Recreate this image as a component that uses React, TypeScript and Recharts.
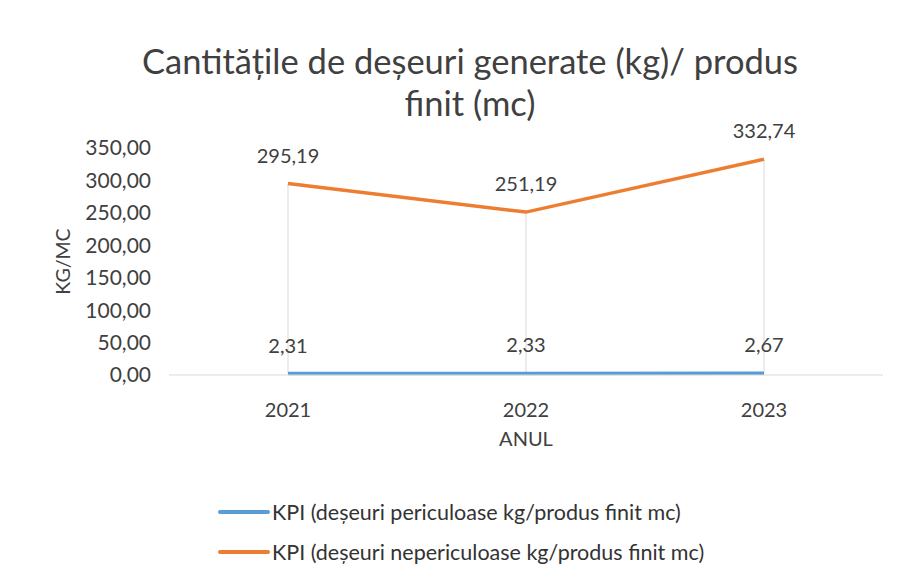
import React from 'react';
import { LineChart, Line, XAxis, YAxis, LabelList, ReferenceLine, Legend } from 'recharts';

const years = ['2021', '2022', '2023'];
const hazardous = [2.31, 2.33, 2.67];
const nonHazardous = [295.19, 251.19, 332.74];
const yTicks = [0, 50, 100, 150, 200, 250, 300, 350];
const seriesNames = [
  'KPI (deșeuri periculoase kg/produs finit mc)',
  'KPI (deșeuri nepericuloase kg/produs finit mc)',
];
const titleLines = ['Cantitățile de deșeuri generate (kg)/ produs', 'finit (mc)'];

const data = years.map((y, i) => ({ year: y, haz: hazardous[i], nonhaz: nonHazardous[i] }));

const BLUE = '#5B9BD5';
const ORANGE = '#ED7D31';
const FONT = 'Lato, "Open Sans", sans-serif';
const TEXT = '#404040';

const fmt = (v: any) => Number(v).toFixed(2).replace('.', ',');

const LegendContent = () => (
  <div style={{ fontFamily: FONT, fontSize: 21.5, color: '#333' }}>
    {seriesNames.map((n, i) => (
      <div key={n} style={{ display: 'flex', alignItems: 'center', height: 40 }}>
        <div style={{ width: 52, height: 4, background: i === 0 ? BLUE : ORANGE, borderRadius: 2 }} />
        <span style={{ marginLeft: 2 }}>{n}</span>
      </div>
    ))}
  </div>
);

export default function App() {
  return (
    <div style={{ position: 'absolute', left: 0, top: 0, width: 902, height: 586, background: '#fff' }}>
      <div
        style={{
          position: 'absolute',
          left: 0,
          top: 40,
          width: 940,
          textAlign: 'center',
          fontFamily: FONT,
          fontSize: 34.5,
          lineHeight: '42px',
          color: TEXT,
        }}
      >
        {titleLines.map((t) => (
          <div key={t}>{t}</div>
        ))}
      </div>
      <LineChart
        width={902}
        height={586}
        data={data}
        margin={{ top: 148, right: 19, bottom: 19, left: 0 }}
        style={{ position: 'absolute', left: 0, top: 0 }}
      >
        <XAxis
          dataKey="year"
          padding={{ left: 119, right: 119 }}
          tickLine={false}
          axisLine={{ stroke: '#D9D9D9', strokeWidth: 1 }}
          tick={{ fill: TEXT, fontSize: 20, fontFamily: FONT }}
          tickMargin={22}
          height={112}
          label={{ value: 'ANUL', position: 'insideTop', offset: 57, fill: TEXT, fontSize: 20, fontFamily: FONT }}
        />
        <YAxis
          domain={[0, 350]}
          ticks={yTicks}
          interval={0}
          width={169}
          axisLine={false}
          tickLine={false}
          tickMargin={12}
          tickFormatter={fmt}
          tick={{ fill: TEXT, fontSize: 21, fontFamily: FONT }}
          label={({ viewBox }: any) => (
            <text
              x={viewBox.x + 62}
              y={viewBox.y + viewBox.height / 2}
              transform={`rotate(-90 ${viewBox.x + 62} ${viewBox.y + viewBox.height / 2})`}
              textAnchor="middle"
              dominantBaseline="central"
              fill={TEXT}
              fontSize={19.5}
              fontFamily={FONT}
            >
              KG/MC
            </text>
          )}
        />
        {data.map((d) => (
          <ReferenceLine
            key={d.year}
            segment={[
              { x: d.year, y: d.haz },
              { x: d.year, y: d.nonhaz },
            ]}
            stroke="#D9D9D9"
            strokeWidth={1}
          />
        ))}
        <Line
          dataKey="haz"
          name={seriesNames[0]}
          stroke={BLUE}
          strokeWidth={3.5}
          dot={false}
          isAnimationActive={false}
        >
          <LabelList dataKey="haz" position="top" offset={21} formatter={fmt} fill={TEXT} fontSize={20} fontFamily={FONT} />
        </Line>
        <Line
          dataKey="nonhaz"
          name={seriesNames[1]}
          stroke={ORANGE}
          strokeWidth={3.5}
          dot={false}
          isAnimationActive={false}
        >
          <LabelList dataKey="nonhaz" position="top" offset={21} formatter={fmt} fill={TEXT} fontSize={20} fontFamily={FONT} />
        </Line>
        <Legend
          verticalAlign="bottom"
          content={<LegendContent />}
          wrapperStyle={{ left: 218, width: 640, height: 80, bottom: 14 }}
        />
      </LineChart>
    </div>
  );
}
